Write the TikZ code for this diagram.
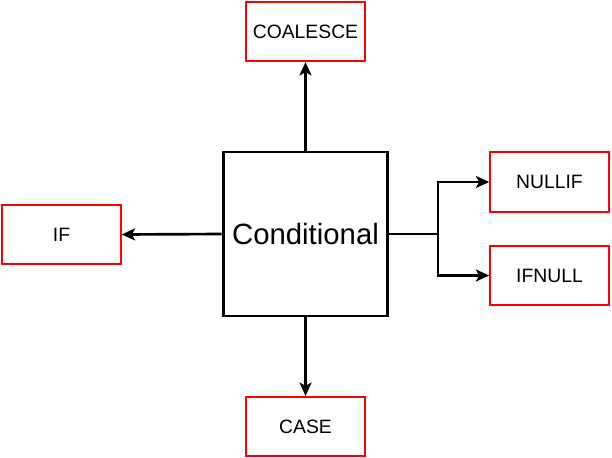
\documentclass[tikz,border=0pt]{standalone}
\usepackage{fontspec}
\setmainfont{Liberation Sans}
\usepackage{tikz}
\usetikzlibrary{positioning}
\usetikzlibrary{arrows.meta}
\usetikzlibrary{calc}
\tikzset{link/.style={draw, ->, >={Stealth[length=10pt, width=9pt, inset=2.5pt]}, line width=2pt}}

\begin{document}
\begin{tikzpicture}[x=0.75pt, y=-0.75pt,
				leaf/.style={draw=red, line width=1.4pt, rectangle, inner sep=0pt, minimum width=89pt, minimum height=44.5pt, font=\fontsize{14.5}{17}\selectfont},
				hub/.style={draw, line width=2.2pt, rectangle, inner sep=0pt, minimum width=123.5pt, minimum height=123pt, font=\fontsize{22}{26}\selectfont},
				every text node part/.style={align=center}]
				\useasboundingbox (0,0) rectangle (612,458);
				\node[hub](cond) at (305.5, 234) {Conditional};
				
				\node[leaf](coalesce) at (305.5, 31.5) {COALESCE};
				\node[leaf](nullif) at (549.5, 182) {NULLIF};
				\node[leaf](ifnull) at (549.5, 275.5) {IFNULL};
				\node[leaf](ifnode) at (61.5, 234.5) {IF};
				\node[leaf](case) at (305.5, 426.5) {CASE};
				\coordinate (split) at (438, 234);
				
				\draw[link] (cond.north) -- (coalesce.south);
				\draw[link] (cond.south) -- (case.north);
				\draw[link] (cond.west) -- (ifnode.east);
				\draw[link] (cond.east) -- (split) |- (nullif.west);
				\draw[link] (split) |- (ifnull.west);
				
			\end{tikzpicture}
\end{document}
